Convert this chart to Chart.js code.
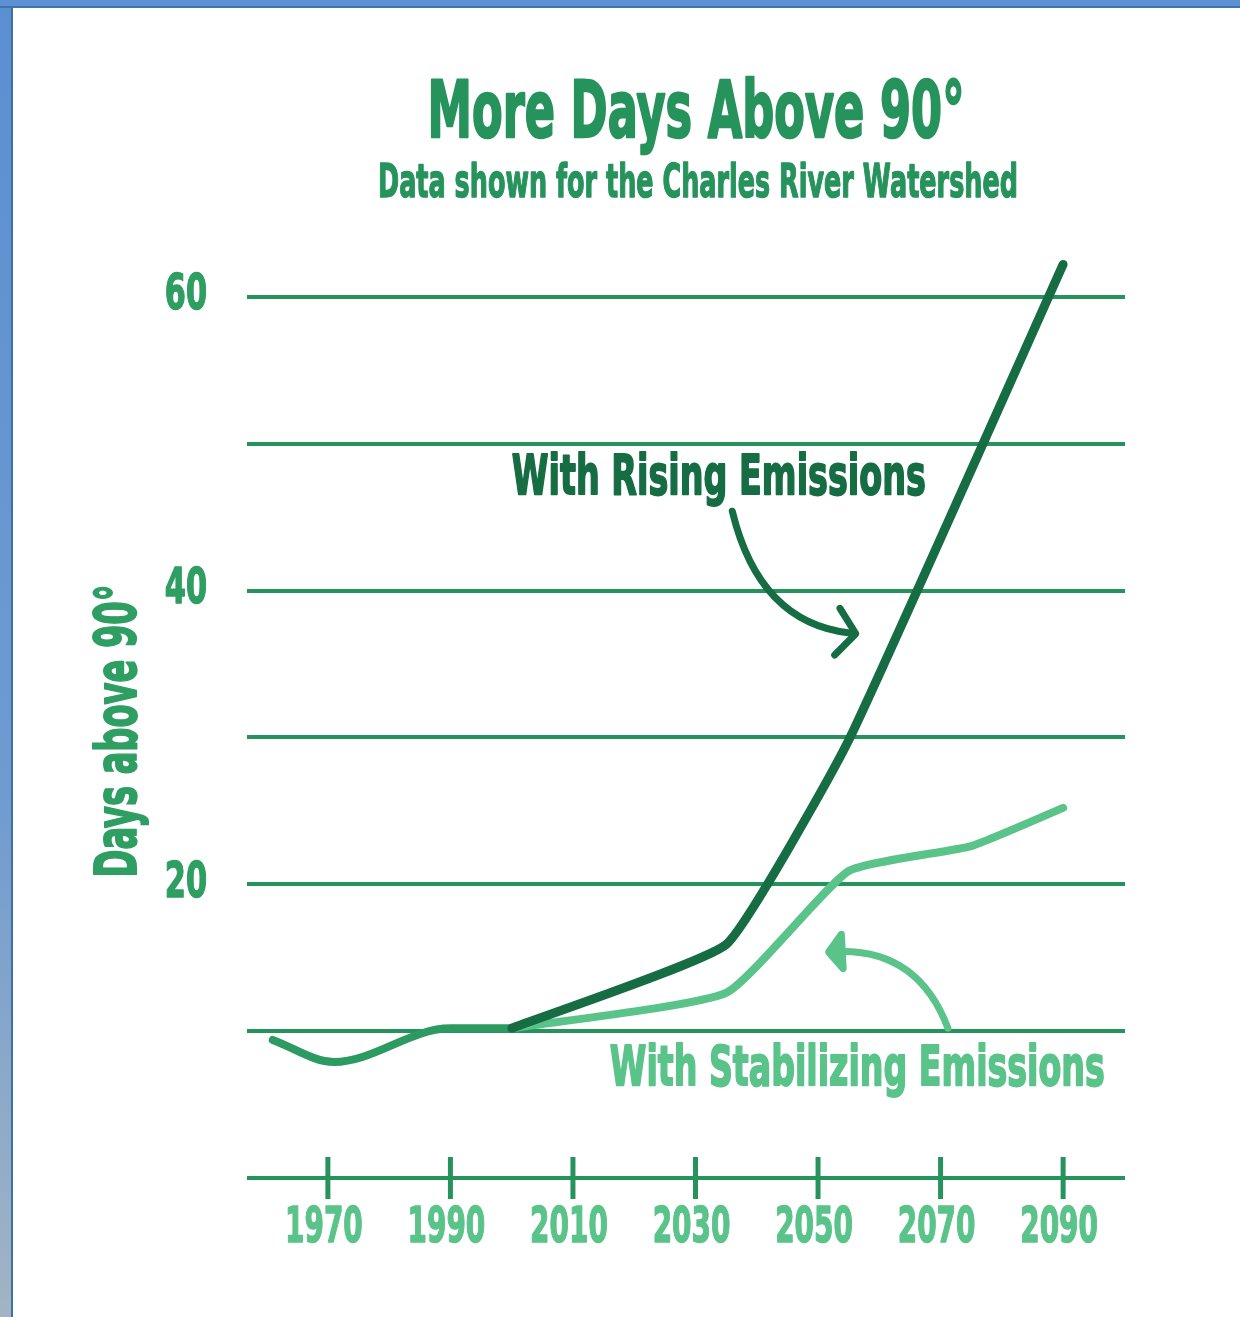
<!DOCTYPE html>
<html>
<head>
<meta charset="utf-8">
<script src="https://cdn.jsdelivr.net/npm/chart.js@4"></script>
<style>
  html, body { margin: 0; padding: 0; background: #fff; }
  #wrap { position: relative; width: 1240px; height: 1317px; overflow: hidden; }
  #frameLeft { position: absolute; left: 0; top: 0; width: 11px; height: 1317px;
    background: linear-gradient(#5a8fd2, #6f9bd0 60%, #a2b4c4); border-right: 2px solid #3e70a8; }
  #frameTop { position: absolute; left: 0; top: 0; width: 1240px; height: 6px;
    background: #5b90d3; border-bottom: 2px solid #4072ab; }
</style>
</head>
<body>
<div id="wrap">
  <canvas id="mycanvas" width="1240" height="1317"></canvas>
  <div id="frameLeft"></div>
  <div id="frameTop"></div>
</div>
<script>
// data
var histYears   = [1961, 1971, 1990, 2000];
var histDays    = [9.4, 7.9, 10.2, 10.2];
var risingYears = [2000, 2035, 2055, 2090];
var risingDays  = [10.2, 15.9, 29.8, 62.2];
var stableYears = [2000, 2035, 2055, 2075, 2090];
var stableDays  = [10.2, 12.6, 20.9, 22.6, 25.2];
var xTickYears  = [1970, 1990, 2010, 2030, 2050, 2070, 2090];
var yTickLabels = [20, 40, 60];

var GRID = '#26935c';
var DARK = '#176d43';
var LIGHT = '#5ac389';
var MID = '#2d9a61';
var FONT = '"DejaVu Sans", "Liberation Sans", sans-serif';

function pts(xs, ys) {
  var out = [];
  for (var i in xs) out.push({x: xs[i], y: ys[i]});
  return out;
}

// condensed text: squeeze horizontally to a width (w) or by a factor (sx)
function squeezeText(ctx, str, x, base, size, color, opt) {
  opt = opt || {};
  ctx.save();
  ctx.font = 'bold ' + size + 'px ' + FONT;
  var w = ctx.measureText(str).width;
  var sx = opt.width ? opt.width / w : (opt.sx || 0.6);
  ctx.translate(x, base);
  if (opt.rot) ctx.rotate(opt.rot);
  ctx.scale(sx, 1);
  ctx.textAlign = opt.align || 'center';
  ctx.textBaseline = opt.baseline || 'alphabetic';
  ctx.fillStyle = color;
  ctx.fillText(str, 0, 0);
  if (opt.heavy) {
    ctx.strokeStyle = color;
    ctx.lineWidth = opt.heavy;
    ctx.lineJoin = 'round';
    ctx.strokeText(str, 0, 0);
  }
  ctx.restore();
}

var decor = {
  id: 'decor',
  afterDraw: function(chart) {
    var ctx = chart.ctx;
    var xs = chart.scales.x, ys = chart.scales.y;
    var y0 = ys.getPixelForValue(0);

    // titles
    squeezeText(ctx, 'More Days Above 90°', 696, 137, 79, GRID, {width: 537, heavy: 2.5});
    squeezeText(ctx, 'Data shown for the Charles River Watershed', 698, 197, 46, GRID, {width: 640, heavy: 1.5});

    // y axis title
    squeezeText(ctx, 'Days above 90°', 136, 731, 57, '#2e9e62', {width: 293, rot: -Math.PI / 2, heavy: 2});

    // y tick labels
    yTickLabels.forEach(function(v) {
      squeezeText(ctx, String(v), 186, ys.getPixelForValue(v), 49, '#2e9e62', {sx: 0.62, baseline: 'middle', heavy: 1.5});
    });

    // x tick marks and labels
    ctx.save();
    ctx.strokeStyle = GRID;
    ctx.lineWidth = 5;
    xTickYears.forEach(function(yr) {
      var px = xs.getPixelForValue(yr);
      ctx.beginPath();
      ctx.moveTo(px, y0 - 21);
      ctx.lineTo(px, y0 + 21);
      ctx.stroke();
    });
    ctx.restore();
    xTickYears.forEach(function(yr) {
      squeezeText(ctx, String(yr), xs.getPixelForValue(yr) - 4, y0 + 64, 49, LIGHT, {sx: 0.57, heavy: 1.5});
    });

    // annotations (anchored in data units)
    function P(yr, v) { return [xs.getPixelForValue(yr), ys.getPixelForValue(v)]; }
    var tp = P(2033.8, 46.6);
    squeezeText(ctx, 'With Rising Emissions', tp[0], tp[1], 56, DARK, {width: 414, heavy: 2});
    tp = P(2056.4, 6.3);
    squeezeText(ctx, 'With Stabilizing Emissions', tp[0], tp[1], 56, LIGHT, {width: 495, heavy: 2});

    function arrow(a, c, b, color, headLen, filled) {
      ctx.save();
      ctx.strokeStyle = color;
      ctx.fillStyle = color;
      ctx.lineWidth = 7;
      ctx.lineCap = 'round';
      ctx.lineJoin = 'round';
      ctx.beginPath();
      ctx.moveTo(a[0], a[1]);
      ctx.quadraticCurveTo(c[0], c[1], b[0], b[1]);
      ctx.stroke();
      var ang = Math.atan2(b[1] - c[1], b[0] - c[0]);
      var tip = [b[0] + Math.cos(ang) * 6, b[1] + Math.sin(ang) * 6];
      ctx.beginPath();
      ctx.moveTo(tip[0] - Math.cos(ang - 0.9) * headLen, tip[1] - Math.sin(ang - 0.9) * headLen);
      ctx.lineTo(tip[0], tip[1]);
      ctx.lineTo(tip[0] - Math.cos(ang + 0.9) * headLen, tip[1] - Math.sin(ang + 0.9) * headLen);
      if (filled) { ctx.closePath(); ctx.fill(); }
      ctx.stroke();
      ctx.restore();
    }
    arrow(P(2036.0, 45.4), P(2040.4, 37.8), P(2055.2, 37.1), DARK, 30, false);
    arrow(P(2071.2, 10.2), P(2066.2, 15.7), P(2052.7, 15.4), LIGHT, 22, true);
  }
};

var ctx = document.getElementById('mycanvas');
var chart = new Chart(ctx, {
  type: 'line',
  data: {
    datasets: [
      { label: 'With Rising Emissions', data: pts(risingYears, risingDays),
        borderColor: DARK, borderWidth: 9, tension: 0.12, pointRadius: 0, borderCapStyle: 'round', borderJoinStyle: 'round' },
      { label: 'With Stabilizing Emissions', data: pts(stableYears, stableDays),
        borderColor: LIGHT, borderWidth: 8, tension: 0.15, pointRadius: 0, borderCapStyle: 'round', borderJoinStyle: 'round' },
      { label: 'Observed', data: pts(histYears, histDays),
        borderColor: MID, borderWidth: 8, cubicInterpolationMode: 'monotone', pointRadius: 0, borderCapStyle: 'round', borderJoinStyle: 'round' }
    ]
  },
  options: {
    responsive: false,
    animation: false,
    layout: { padding: { left: 247, right: 115, top: 238, bottom: 139 } },
    plugins: { legend: { display: false }, title: { display: false }, tooltip: { enabled: false } },
    scales: {
      x: {
        type: 'linear', min: 1956.8, max: 2100.1,
        afterBuildTicks: function(s) { s.ticks = xTickYears.map(function(v) { return {value: v}; }); },
        ticks: { display: false },
        grid: { display: false, drawTicks: false },
        border: { display: false }
      },
      y: {
        min: 0, max: 64,
        ticks: { display: false, stepSize: 10, includeBounds: false },
        grid: { color: GRID, lineWidth: 4, drawTicks: false },
        border: { display: false }
      }
    }
  },
  plugins: [decor]
});
</script>
</body>
</html>
